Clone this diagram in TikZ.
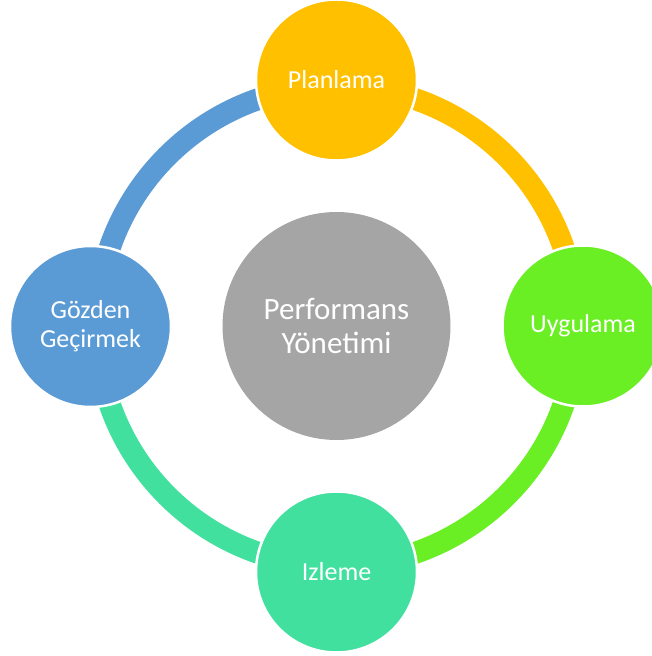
\documentclass[tikz,border=0pt]{standalone}
\usepackage{fontspec}
\setmainfont{Carlito}
\definecolor{cycOrange}{RGB}{255,192,0}
\definecolor{cycGreen}{RGB}{106,238,36}
\definecolor{cycTeal}{RGB}{66,224,158}
\definecolor{cycBlue}{RGB}{91,155,213}
\definecolor{cycGrey}{RGB}{165,165,165}
\tikzset{
  ringarc/.style={line width=22pt, line cap=butt},
  stage/.style={circle, minimum size=161pt, inner sep=0pt, draw=white,
    line width=2.5pt, text=white, align=center,
    font=\fontsize{26}{29}\selectfont},
  hub/.style={circle, minimum size=228pt, inner sep=0pt, fill=cycGrey,
    text=white, align=center, font=\fontsize{31}{34}\selectfont},
}
\begin{document}
\begin{tikzpicture}[x=1pt, y=1pt]
  \useasboundingbox (0,0) rectangle (652,656);
  \clip (0,0) rectangle (652,656);

  % centre of the cycle ring
  \coordinate (c) at (336.7,330);

  % coloured quarters of the ring
  \draw[ringarc, cycOrange] ([shift={(90:240pt)}]c) arc[start angle=90, end angle=0, radius=240pt];
  \draw[ringarc, cycGreen]  ([shift={(0:240pt)}]c) arc[start angle=0, end angle=-90, radius=240pt];
  \draw[ringarc, cycTeal]   ([shift={(-90:240pt)}]c) arc[start angle=-90, end angle=-180, radius=240pt];
  \draw[ringarc, cycBlue]   ([shift={(180:240pt)}]c) arc[start angle=180, end angle=90, radius=240pt];

  % hub
  \node[hub] (hub) at (336.5,330) {Performans\\Yönetimi};

  % stages of the cycle
  \node[stage, fill=cycOrange] (plan)   at (336.5,576) {Planlama};
  \node[stage, fill=cycGreen]  (uygula) at (583,330)   {Uygulama};
  \node[stage, fill=cycTeal]   (izle)   at (336.5,84)  {Izleme};
  \node[stage, fill=cycBlue]   (gozden) at (90.5,329.5) {Gözden\\Geçirmek};
\end{tikzpicture}
\end{document}
